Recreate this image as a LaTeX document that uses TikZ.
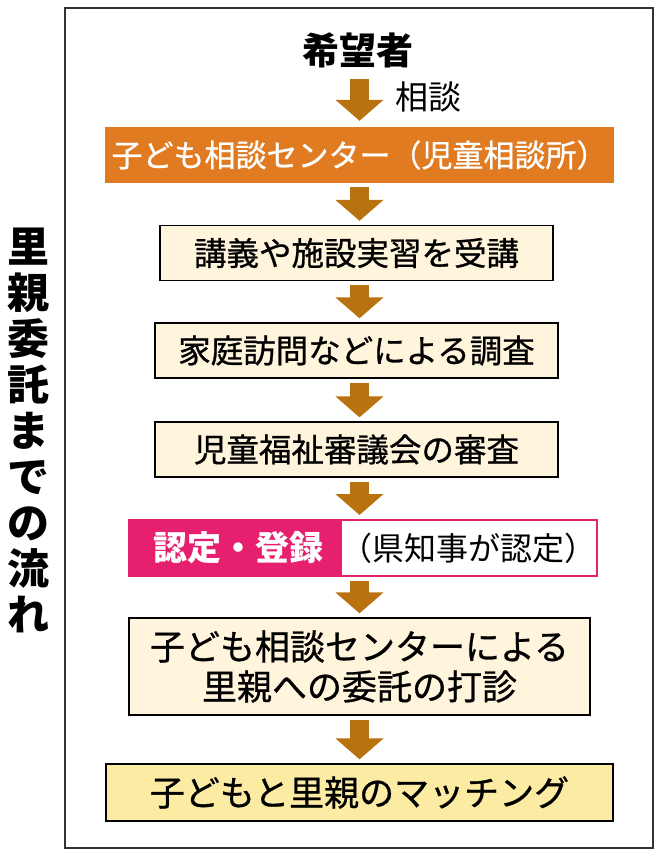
\documentclass[tikz,border=0pt]{standalone}
\usepackage{fontspec}
\setmainfont{Noto Sans CJK JP}
\newfontfamily\medjp{Noto Sans CJK JP}[FakeBold=0.8]
\usetikzlibrary{arrows.meta}
\definecolor{arrowc}{HTML}{B8720F}
\definecolor{orangec}{HTML}{E07B22}
\definecolor{magc}{HTML}{E6206E}
\definecolor{creamc}{HTML}{FFF4DC}
\definecolor{yellowc}{HTML}{FCEBA2}
\definecolor{framec}{HTML}{333333}
\tikzset{
  stepbox/.style={draw=black, line width=1.3pt, fill=creamc, inner sep=0pt, align=center,
    font=\fontsize{32.5}{40}\selectfont\medjp},
  arr/.style={draw=arrowc, line width=19pt, -{Triangle[width=47pt,length=21pt]},
    shorten <=4pt, shorten >=4pt},
}
\begin{document}
\begin{tikzpicture}[x=1pt,y=-1pt]
\useasboundingbox (0,0) rectangle (661,860);
\fill[white] (0,0) rectangle (661,860);
\draw[framec, line width=2pt] (65,8) rectangle (653,848);

\coordinate (ax) at (359.5,0);

% vertical title
\node[inner sep=0pt, align=center, font=\fontsize{42}{46}\selectfont\bfseries] (title) at (29,430)
  {里\\親\\委\\託\\ま\\で\\の\\流\\れ};

\node[inner sep=0pt, font=\fontsize{37}{40}\selectfont\bfseries] (hope) at (358,50) {希望者};

\node[fill=orangec, text=white, inner sep=0pt, minimum width=509pt, minimum height=56pt,
  font=\fontsize{31}{36}\selectfont\medjp] (center) at (359.5,155) {子ども相談センター（児童相談所）};

\node[anchor=west, inner sep=0pt, font=\fontsize{33}{36}\selectfont] (soudan) at (395,97) {相談};

\node[stepbox, minimum width=393pt, minimum height=55pt] (lec) at (356.5,253) {講義や施設実習を受講};
\node[stepbox, minimum width=403pt, minimum height=55pt] (home) at (356.5,350.5) {家庭訪問などによる調査};
\node[stepbox, minimum width=403pt, minimum height=55pt] (council) at (356.5,449.5) {児童福祉審議会の審査};

\node[fill=magc, draw=magc, line width=2pt, text=white, inner sep=0pt, minimum width=218pt,
  minimum height=56pt, font=\fontsize{34}{36}\selectfont\bfseries] (certL) at (238,548) {認定・登録};
\node[fill=white, draw=magc, line width=2pt, inner sep=0pt, minimum width=243pt,
  minimum height=56pt, font=\fontsize{32}{36}\selectfont] (certR) at (468.5,548) {（県知事が認定）};

\node[stepbox, minimum width=461pt, minimum height=97pt, font=\fontsize{35}{40}\selectfont\medjp]
  (offer) at (359.5,666.5) {子ども相談センターによる\\里親への委託の打診};

\node[stepbox, fill=yellowc, minimum width=507pt, minimum height=57pt, font=\fontsize{35}{40}\selectfont\medjp]
  (match) at (359.5,792.5) {子どもと里親のマッチング};

% arrows
\draw[arr, shorten <=11pt, shorten >=6pt] (hope.south -| ax) -- (center.north -| ax);
\draw[arr] (center.south -| ax) -- (lec.north -| ax);
\draw[arr] (lec.south -| ax) -- (home.north -| ax);
\draw[arr] (home.south -| ax) -- (council.north -| ax);
\draw[arr] (council.south -| ax) -- (certL.north -| ax);
\draw[arr] (certL.south -| ax) -- (offer.north -| ax);
\draw[arr] (offer.south -| ax) -- (match.north -| ax);
\end{tikzpicture}
\end{document}
